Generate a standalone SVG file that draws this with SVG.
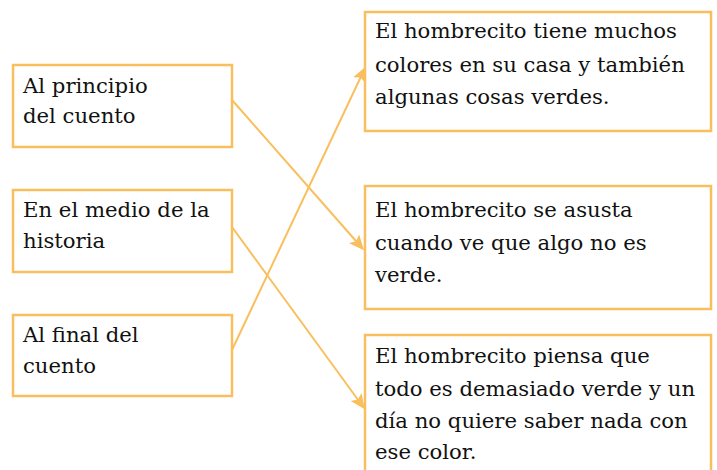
<svg xmlns="http://www.w3.org/2000/svg" width="717" height="470" viewBox="0 0 717 470">
<style>
.box{fill:#fff;stroke:#F9BF5E;stroke-width:2.5}
.con{stroke:#F9BF5E;stroke-width:2;fill:none}
text{font-family:"DejaVu Serif","Liberation Serif",serif;font-size:21.2px;fill:#111}
</style>
<defs>
<marker id="ah" viewBox="0 0 10 10" refX="9" refY="5" markerWidth="15" markerHeight="15" markerUnits="userSpaceOnUse" orient="auto">
<path d="M0,0.5 L10,5 L0,9.5 L2,5 z" fill="#F9BF5E"/>
</marker>
</defs>
<rect width="717" height="470" fill="#fff"/>
<g id="connectors">
<line class="con" x1="232" y1="100" x2="363" y2="249" marker-end="url(#ah)"/>
<line class="con" x1="232" y1="227" x2="364" y2="408" marker-end="url(#ah)"/>
<line class="con" x1="232" y1="350" x2="365" y2="68" marker-end="url(#ah)"/>
</g>
<g id="left1"><rect class="box" x="13" y="65" width="219" height="82"/><text x="23" y="93">Al principio</text><text x="23" y="123">del cuento</text></g>
<g id="left2"><rect class="box" x="13" y="190" width="219" height="82"/><text x="23" y="217">En el medio de la</text><text x="23" y="248">historia</text></g>
<g id="left3"><rect class="box" x="13" y="315" width="219" height="81"/><text x="23" y="342">Al final del</text><text x="23" y="373">cuento</text></g>
<g id="right1"><rect class="box" x="365" y="12" width="346" height="119"/><text x="375" y="38">El hombrecito tiene muchos</text><text x="375" y="72">colores en su casa y también</text><text x="375" y="104">algunas cosas verdes.</text></g>
<g id="right2"><rect class="box" x="365" y="186" width="346" height="123"/><text x="375" y="217">El hombrecito se asusta</text><text x="375" y="250">cuando ve que algo no es</text><text x="375" y="282">verde.</text></g>
<g id="right3"><rect class="box" x="365" y="335" width="346" height="140"/><text x="375" y="363">El hombrecito piensa que</text><text x="375" y="396">todo es demasiado verde y un</text><text x="375" y="428">día no quiere saber nada con</text><text x="375" y="459">ese color.</text></g>
</svg>
